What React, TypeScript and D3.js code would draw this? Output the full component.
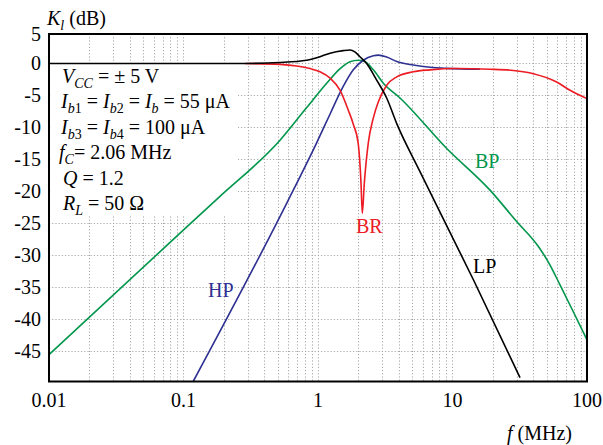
import React from "react";
import * as d3 from "d3";

// ---- data (frequency in MHz, gain in dB) ----
const lpF = [0.01, 0.286, 0.522, 0.824, 1.035, 1.23, 1.54, 1.73, 1.88, 2.05, 2.3, 2.73, 3.24, 3.85, 5.73, 14.3, 31.8];
const lpDb = [0, 0, 0.15, 0.5, 1.05, 1.6, 2.0, 2.1, 1.8, 1.05, 0, -2.6, -5.4, -9.4, -16.9, -33.8, -49.1];

const bpF = [0.01, 0.0728, 0.1816, 0.522, 0.824, 1.16, 1.46, 1.73, 1.99, 2.17, 2.58, 3.06, 4.07, 9.06, 19.0, 30.0, 43.5, 53.1, 63.0, 79.1, 100];
const bpDb = [-45.5, -28.7, -21.0, -12.0, -6.9, -3.1, -0.8, 0.27, 0.5, 0.4, -1.0, -3.1, -5.4, -13.3, -19.8, -24.7, -28.6, -31.5, -34.6, -38.8, -43.2];

const hpF = [0.118, 0.6, 0.977, 1.23, 1.54, 1.83, 2.17, 2.58, 2.81, 3.24, 3.85, 5.11, 6.8, 9.06, 16.0];
const hpDb = [-49.7, -21.4, -12.4, -7.9, -3.6, -1.0, 0.5, 1.2, 1.3, 1.0, 0.3, -0.25, -0.6, -0.77, -0.9];

const brF = [0.286, 0.522, 0.695, 0.873, 1.035, 1.23, 1.46, 1.68, 1.83, 1.99, 2.088, 2.135, 2.21, 2.37, 2.58, 2.81, 3.24, 3.85, 5.11, 6.8, 10.7, 19.0, 28.3, 39.9, 59.5, 74.8, 100];
const brDb = [0, -0.15, -0.4, -0.8, -1.3, -2.3, -4.2, -7.3, -9.5, -12.5, -18.7, -23.4, -18.7, -12.3, -8.5, -6.0, -3.4, -2.1, -1.3, -1.0, -0.8, -0.9, -1.1, -1.6, -2.9, -4.2, -5.5];

const yTicks = [5, 0, -5, -10, -15, -20, -25, -30, -35, -40, -45];
const xTicks = [0.01, 0.1, 1, 10, 100];
const xTickLabels = ["0.01", "0.1", "1", "10", "100"];

type Seg = { t: string; it?: boolean; sub?: boolean };
const annotations: Seg[][] = [
  [{ t: "V", it: true }, { t: "CC", it: true, sub: true }, { t: " =  ± 5 V" }],
  [{ t: "I", it: true }, { t: "b", it: true, sub: true }, { t: "1", sub: true }, { t: " = " }, { t: "I", it: true }, { t: "b", it: true, sub: true }, { t: "2", sub: true }, { t: " = " }, { t: "I", it: true }, { t: "b", it: true, sub: true }, { t: " = 55 μA" }],
  [{ t: "I", it: true }, { t: "b", it: true, sub: true }, { t: "3", sub: true }, { t: " = " }, { t: "I", it: true }, { t: "b", it: true, sub: true }, { t: "4", sub: true }, { t: " = 100 μA" }],
  [{ t: "f", it: true }, { t: "C", it: true, sub: true }, { t: "= 2.06 MHz" }],
  [{ t: "Q", it: true }, { t: " = 1.2" }],
  [{ t: "R", it: true }, { t: "L", it: true, sub: true }, { t: " = 50 Ω" }],
];

const FONT = "'Liberation Serif', 'Times New Roman', serif";
const W = 603, H = 445;
const L = 49, R = 587, T = 34, B = 381.5;

function renderSegs(segs: Seg[]) {
  const out: React.ReactNode[] = [];
  let inSub = false;
  segs.forEach((s, i) => {
    let dy = 0;
    if (s.sub && !inSub) { dy = 5; inSub = true; }
    else if (!s.sub && inSub) { dy = -5; inSub = false; }
    out.push(
      <tspan key={i} dy={dy || undefined} fontStyle={s.it ? "italic" : "normal"} fontSize={s.sub ? 14 : undefined}>
        {s.t}
      </tspan>
    );
  });
  return out;
}

export default function App() {
  const x = d3.scaleLog().domain([0.01, 100]).range([L, R]);
  const y = d3.scaleLinear().domain([-49.7, 4.6]).range([B, T]);

  const mk = (fs: number[], ds: number[]) =>
    d3.line<number>()
      .x((_, i) => x(fs[i]))
      .y((_, i) => y(ds[i]))
      .curve(d3.curveMonotoneX)(fs.map((_, i) => i)) || "";

  const vGrid: number[] = [];
  for (let e = -2; e < 2; e++) {
    for (let m = 1; m <= 9; m++) {
      const v = m * Math.pow(10, e);
      if (v > 0.01) vGrid.push(v);
    }
  }
  const hGrid = yTicks.filter((v) => v < 5);

  const series = [
    { f: bpF, d: bpDb, c: "#00964b" },
    { f: hpF, d: hpDb, c: "#2e3192" },
    { f: brF, d: brDb, c: "#ed1c24" },
    { f: lpF, d: lpDb, c: "#000000" },
  ];

  return (
    <svg width={W} height={H} style={{ position: "absolute", left: 0, top: 0, background: "#fff", whiteSpace: "pre" }} fontFamily={FONT}>
      <rect x={0} y={0} width={W} height={H} fill="#fff" />
      {/* grid */}
      <g stroke="#a8a8a8" strokeWidth={1} strokeDasharray="1.2,2">
        {vGrid.map((v) => (
          <line key={"v" + v} x1={Math.round(x(v)) + 0.5} x2={Math.round(x(v)) + 0.5} y1={T} y2={B} />
        ))}
        {hGrid.map((v) => (
          <line key={"h" + v} x1={L} x2={R} y1={Math.round(y(v)) + 0.5} y2={Math.round(y(v)) + 0.5} />
        ))}
      </g>
      {/* annotation box background */}
      <rect x={51} y={65} width={187} height={151} fill="#fff" />
      {/* curves */}
      <g fill="none" strokeWidth={1.6} strokeLinejoin="round">
        {series.map((s, i) => (
          <path key={i} d={mk(s.f, s.d)} stroke={s.c} />
        ))}
      </g>
      {/* frame */}
      <rect x={L} y={T} width={R - L} height={B - T} fill="none" stroke="#000" strokeWidth={2} />
      {/* y tick labels */}
      <g fontSize={20} textAnchor="end">
        {yTicks.map((v) => (
          <text key={v} x={41} y={y(Math.min(v, 4.6))} dy="0.35em">{v}</text>
        ))}
      </g>
      {/* x tick labels */}
      <g fontSize={20} textAnchor="middle">
        {xTicks.map((v, i) => (
          <text key={v} x={x(v)} y={407}>{xTickLabels[i]}</text>
        ))}
      </g>
      {/* axis titles */}
      <text x={47} y={25} fontSize={20}>
        <tspan fontStyle="italic">K</tspan>
        <tspan fontStyle="italic" fontSize={14} dy={5}>l</tspan>
        <tspan dy={-5}> (dB)</tspan>
      </text>
      <text x={507} y={440} fontSize={20}>
        <tspan fontStyle="italic">f</tspan>
        <tspan> (MHz)</tspan>
      </text>
      {/* annotations */}
      <g fontSize={20}>
        {annotations.map((segs, i) => (
          <text key={i} x={i === 0 ? 62 : i === 3 ? 59 : i >= 4 ? 63 : 61} y={83 + i * 25.4}>
            {renderSegs(segs)}
          </text>
        ))}
      </g>
      {/* curve labels */}
      <g fontSize={20}>
        <text x={475} y={168} fill="#00964b">BP</text>
        <text x={356} y={233} fill="#ed1c24">BR</text>
        <text x={473} y={273} fill="#000">LP</text>
        <text x={208} y={297} fill="#2e3192">HP</text>
      </g>
    </svg>
  );
}
